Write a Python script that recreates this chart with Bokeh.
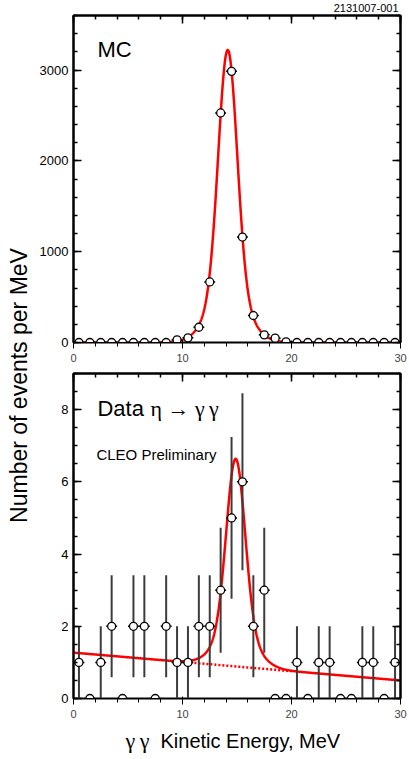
import numpy as np
from bokeh.plotting import figure
from bokeh.models import (Range1d, LinearAxis, Label, SingleIntervalTicker, ColumnDataSource,
                          CustomJSTickFormatter)
from bokeh.layouts import column, row
from bokeh.embed import file_html
from bokeh.resources import INLINE

# ---------------- data ----------------
bin_centers = [0.5, 1.5, 2.5, 3.5, 4.5, 5.5, 6.5, 7.5, 8.5, 9.5,
               10.5, 11.5, 12.5, 13.5, 14.5, 15.5, 16.5, 17.5, 18.5, 19.5,
               20.5, 21.5, 22.5, 23.5, 24.5, 25.5, 26.5, 27.5, 28.5, 29.5]
bin_half_width = 0.5

mc_counts = [0, 0, 0, 0, 0, 0, 0, 0, 0, 29,
             51, 168, 667, 2527, 2985, 1161, 297, 84, 48, 7,
             0, 0, 0, 0, 0, 0, 0, 0, 0, 0]

data_counts = [1, 0, 1, 2, 0, 2, 2, 0, 2, 1,
               1, 2, 2, 3, 5, 6, 2, 3, 0, 0,
               1, 0, 1, 1, 0, 0, 1, 1, 0, 1]
data_errors = [1.0, 0, 1.0, 1.41, 0, 1.41, 1.41, 0, 1.41, 1.0,
               1.0, 1.41, 1.41, 1.73, 2.24, 2.45, 1.41, 1.73, 0, 0,
               1.0, 0, 1.0, 1.0, 0, 0, 1.0, 1.0, 0, 1.0]

# fit-model parameters
mc_peak = 3220.0
mc_mean = 14.15
sigma_core = 0.85
sigma_wide = 1.7
wide_fraction = 0.18

data_signal_peak = 5.75
data_mean = 14.88
bkg_at_0 = 1.27
bkg_at_30 = 0.50
bkg_dotted_from = 10.0
bkg_dotted_to = 20.0

# ---------------- helpers ----------------
FONT = "Liberation Sans"
SERIF = "Liberation Serif"
RED = "#ff0000"
BLANK = CustomJSTickFormatter(code="return ''")


def shape(x, mean):
    d = x - mean
    return ((1 - wide_fraction) * np.exp(-d ** 2 / (2 * sigma_core ** 2))
            + wide_fraction * np.exp(-d ** 2 / (2 * sigma_wide ** 2)))


def bkg(x):
    return bkg_at_0 + (bkg_at_30 - bkg_at_0) * x / 30.0


def style_axes(p, y_interval, y_minor):
    p.xaxis.ticker = SingleIntervalTicker(interval=10, num_minor_ticks=5)
    p.yaxis.ticker = SingleIntervalTicker(interval=y_interval, num_minor_ticks=y_minor)
    top = LinearAxis(ticker=SingleIntervalTicker(interval=10, num_minor_ticks=5), formatter=BLANK)
    right = LinearAxis(ticker=SingleIntervalTicker(interval=y_interval, num_minor_ticks=y_minor),
                       formatter=BLANK)
    p.add_layout(top, "above")
    p.add_layout(right, "right")
    for ax in [p.xaxis[0], p.yaxis[0], top, right]:
        ax.axis_line_width = 2
        ax.axis_line_color = "black"
        ax.major_tick_in = 8
        ax.major_tick_out = 0
        ax.minor_tick_in = 4
        ax.minor_tick_out = 0
        ax.major_tick_line_width = 1.5
        ax.minor_tick_line_width = 1.5
        ax.major_tick_line_color = "black"
        ax.minor_tick_line_color = "black"
        ax.major_label_text_font = FONT
        ax.major_label_text_font_size = "13px"
        ax.major_label_text_color = "black"
    for ax in [top, right]:
        ax.major_label_standoff = 0
    p.yaxis[0].major_label_standoff = 5
    p.xaxis[0].major_label_standoff = 4
    p.xgrid.visible = False
    p.ygrid.visible = False
    p.outline_line_color = "black"
    p.outline_line_width = 2


def draw_points(p, xs, ys, errs, bar_color):
    src = ColumnDataSource(dict(
        x=xs, y=ys,
        x0=[x - bin_half_width for x in xs], x1=[x + bin_half_width for x in xs]))
    ex, elo, ehi = [], [], []
    for x, y, e in zip(xs, ys, errs):
        if e > 0:
            ex.append(x)
            elo.append(y - e)
            ehi.append(y + e)
    if ex:
        p.segment(x0=ex, y0=elo, x1=ex, y1=ehi, line_color=bar_color, line_width=2)
    p.segment(x0="x0", y0="y", x1="x1", y1="y", source=src, line_color="black", line_width=1.5)
    p.scatter(x="x", y="y", source=src, size=8, marker="circle",
              fill_color="white", line_color="black", line_width=1.3)


def text_panel(w, h):
    f = figure(width=w, height=h, x_range=Range1d(0, w), y_range=Range1d(0, h),
               x_axis_type=None, y_axis_type=None,
               output_backend="svg", toolbar_location=None, frame_align=False,
               min_border_left=0, min_border_right=0, min_border_top=0, min_border_bottom=0,
               outline_line_color=None, background_fill_color="white", border_fill_color="white")
    f.grid.visible = False
    return f


LEFT_COL = 35
W = 409 - LEFT_COL  # plots column width

# ---------------- header ----------------
ph = text_panel(W, 14)
ph.add_layout(Label(x=363, y=7, text="2131007-001", text_font=FONT, text_font_size="11px",
                    text_color="black", text_align="right", text_baseline="middle"))

# ---------------- top panel (MC) ----------------
p1 = figure(width=W, height=351, x_range=Range1d(0, 30), y_range=Range1d(0, 3600),
            output_backend="svg", toolbar_location=None,
            min_border_left=38, min_border_right=9, min_border_top=1, min_border_bottom=23,
            background_fill_color="white", border_fill_color="white")
style_axes(p1, 1000, 5)

xf = np.linspace(0, 30, 1201)
p1.line(xf, mc_peak * shape(xf, mc_mean), line_color=RED, line_width=2.5)
draw_points(p1, bin_centers, mc_counts, [0] * len(mc_counts), "black")

p1.add_layout(Label(x=2.2, y=3231, text="MC", text_font=FONT, text_font_size="22px",
                    text_color="black", text_baseline="alphabetic"))

# ---------------- bottom panel (Data) ----------------
p2 = figure(width=W, height=355, x_range=Range1d(0, 30), y_range=Range1d(0, 9),
            output_backend="svg", toolbar_location=None,
            min_border_left=38, min_border_right=9, min_border_top=8, min_border_bottom=20,
            background_fill_color="white", border_fill_color="white")
style_axes(p2, 2, 4)

p2.line(xf, bkg(xf) + data_signal_peak * shape(xf, data_mean), line_color=RED, line_width=2.5)
xd = np.linspace(bkg_dotted_from, bkg_dotted_to, 50)
p2.line(xd, bkg(xd), line_color=RED, line_width=2.5, line_dash="2 2")
draw_points(p2, bin_centers, data_counts, data_errors, "#3c3c3c")

p2.add_layout(Label(x=2.2, y=8.03, text="Data", text_font=FONT, text_font_size="22px",
                    text_color="black", text_baseline="alphabetic"))
p2.add_layout(Label(x=7.06, y=8.03, text="\u03b7 \u2192 \u03b3\u2009\u03b3", text_font=SERIF,
                    text_font_size="22px", text_color="black", text_baseline="alphabetic"))
p2.add_layout(Label(x=2.1, y=6.77, text="CLEO Preliminary", text_font=FONT,
                    text_font_size="15px", text_color="black", text_baseline="alphabetic"))

# ---------------- x-axis title ----------------
px = text_panel(W, 39)
px.add_layout(Label(x=90, y=19, text="\u03b3\u2009\u03b3", text_font=SERIF,
                    text_font_size="22px", text_color="black", text_baseline="alphabetic"))
px.add_layout(Label(x=125, y=19, text="Kinetic Energy, MeV", text_font=FONT,
                    text_font_size="20px", text_color="black", text_baseline="alphabetic"))

# ---------------- y-axis title ----------------
pl = text_panel(LEFT_COL, 759)
pl.add_layout(Label(x=18, y=374, text="Number of events per MeV", text_font=FONT,
                    text_font_size="23px", text_color="black", angle=np.pi / 2,
                    text_align="center", text_baseline="alphabetic"))

layout = row(pl, column(ph, p1, p2, px))

open("out.html", "w").write(file_html(layout, INLINE))
